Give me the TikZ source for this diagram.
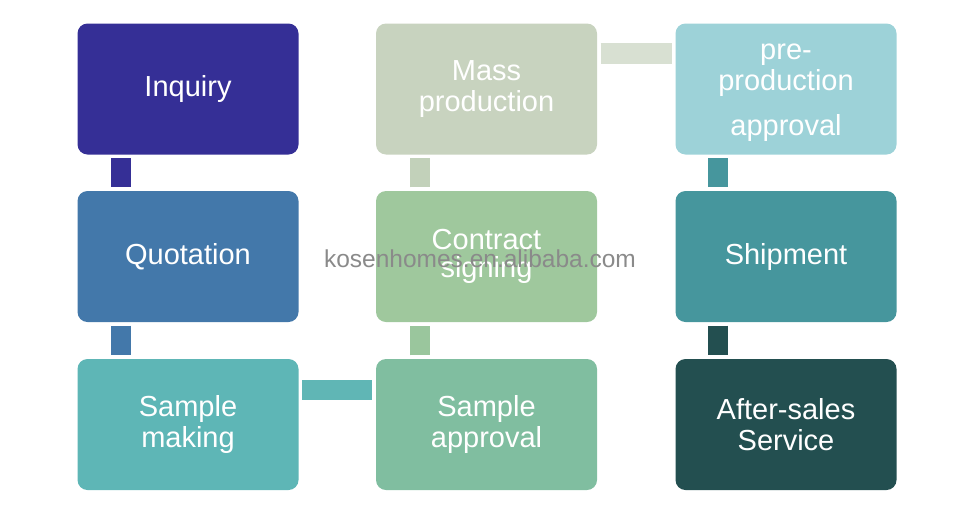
\documentclass[tikz,border=0pt]{standalone}
\usepackage{fontspec}
\setmainfont{Liberation Sans}

\definecolor{corInq}{HTML}{352F96}
\definecolor{corQuo}{HTML}{4378AA}
\definecolor{corSam}{HTML}{5EB6B6}
\definecolor{corSap}{HTML}{80BEA0}
\definecolor{corCon}{HTML}{9FC89D}
\definecolor{corMas}{HTML}{C8D3BF}
\definecolor{corPre}{HTML}{9DD2D8}
\definecolor{corShi}{HTML}{46969D}
\definecolor{corAft}{HTML}{234F50}
\definecolor{corMarca}{HTML}{8A8A8A}

\begin{document}
\begin{tikzpicture}[
		x=1pt,
		y=-1pt,
		caixa/.style={
			rectangle, 
			rounded corners=10pt,
			minimum width=221pt, 
			minimum height=131pt,
			inner sep=0pt,
			align=center, 
			text=white,
			font=\fontsize{29}{31}\selectfont
		},
		barra/.style={
			line width=20pt,
			shorten >=3.5pt,
			shorten <=3.5pt
		}
		]
		
		\useasboundingbox (0,0) rectangle (960,512);
		
		\node[caixa, fill=corInq] (inq) at (188,89) {Inquiry};
		\node[caixa, fill=corQuo] (quo) at (188,256.5) {Quotation};
		\node[caixa, fill=corSam] (sam) at (188,424.5) {Sample\\making};
		
		\node[caixa, fill=corMas] (mas) at (486.5,89) {Mass\\production};
		\node[caixa, fill=corCon, font=\fontsize{29}{28}\selectfont] (con) at (486.5,256.5) {Contract\\signing};
		\node[caixa, fill=corSap] (sap) at (486.5,424.5) {Sample\\approval};
		
		\node[caixa, fill=corPre, label={[caixa, minimum width=0pt, minimum height=0pt, yshift=-4pt]center:{pre-\\production\\[14pt]approval}}] (pre) at (786,89) {};
		\node[caixa, fill=corShi] (shi) at (786,256.5) {Shipment};
		\node[caixa, fill=corAft] (aft) at (786,424.5) {After-sales\\Service};
		
		%Barras
		\draw[barra, corInq] ([xshift=-67.5pt]inq.south) -- ([xshift=-67.5pt]quo.north);
		\draw[barra, corQuo] ([xshift=-67.5pt]quo.south) -- ([xshift=-67.5pt]sam.north);
		\draw[barra, corSam!95!corSap] ([yshift=34.5pt]sam.east) -- ([yshift=34.5pt]sap.west);
		\draw[barra, corCon!85!corSap] ([xshift=-66.5pt]sap.north) -- ([xshift=-66.5pt]con.south);
		\draw[barra, corMas!85!corCon] ([xshift=-66.5pt]con.north) -- ([xshift=-66.5pt]mas.south);
		\draw[barra, corMas!70!white, line width=21pt] ([yshift=35.5pt]mas.east) -- ([yshift=35.5pt]pre.west);
		\draw[barra, corShi] ([xshift=-68pt]pre.south) -- ([xshift=-68pt]shi.north);
		\draw[barra, corAft] ([xshift=-68pt]shi.south) -- ([xshift=-68pt]aft.north);
		
		%Marca
		\node[anchor=base, inner sep=0pt, text=corMarca, font=\fontsize{24.5}{25}\selectfont] (marca) at (480,267) {kosenhomes.en.alibaba.com};
		
	\end{tikzpicture}
\end{document}
